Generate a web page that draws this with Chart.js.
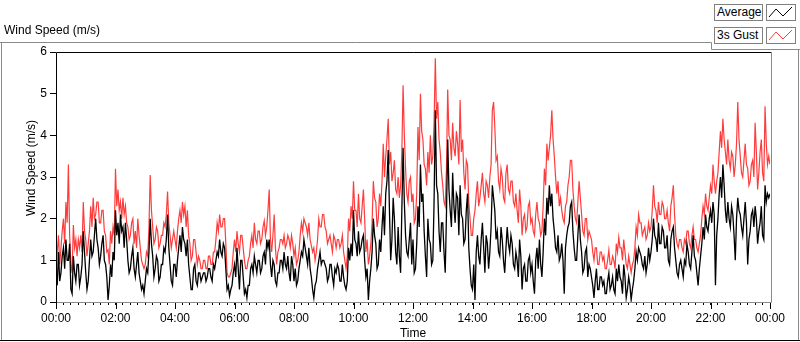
<!DOCTYPE html>
<html>
<head>
<meta charset="utf-8">
<script src="https://cdn.jsdelivr.net/npm/chart.js@4.4.0/dist/chart.umd.min.js"></script>
<style>
  body { margin: 0; background: #fff; font-family: "Liberation Sans", Arial, sans-serif; }
  #wrap { position: relative; width: 800px; height: 342px; }
  #c { position: absolute; left: 0; top: 0; }
  .lbl { position: absolute; font-size: 12px; line-height: 14px; color: #000; white-space: nowrap; }
  .box { position: absolute; height: 17px; border: 1px solid #808080; background: #fff;
         box-sizing: border-box; font-size: 12px; line-height: 15px; padding-left: 2px; color: #000; }
  .icon { position: absolute; width: 30px; height: 17px; border: 1px solid #808080; background: #fff; box-sizing: border-box; }
</style>
</head>
<body>
<div id="wrap">
  <canvas id="c" width="800" height="342"></canvas>
  <div class="lbl" style="left:4px;top:23px;">Wind Speed (m/s)</div>
  <div class="box" style="left:714px;top:4px;width:49px;">Average</div>
  <div class="icon" style="left:766px;top:4px;">
    <svg width="28" height="15"><polyline points="2,12 9,4 16,11 25,2" fill="none" stroke="#000" stroke-width="1"/></svg>
  </div>
  <div class="box" style="left:714px;top:27px;width:49px;">3s Gust</div>
  <div class="icon" style="left:766px;top:27px;">
    <svg width="28" height="15"><polyline points="2,12 9,4 16,11 25,2" fill="none" stroke="#ff4040" stroke-width="1"/></svg>
  </div>
</div>
<script>
// one reading every 2.5 min from 00:00 to 24:00 (24 per hour row)
const STEP_MIN = 2.5;

const HOUR_TICKS = ['00:00', '02:00', '04:00', '06:00', '08:00', '10:00', '12:00',
                    '14:00', '16:00', '18:00', '20:00', '22:00', '00:00'];

const gust = [
  0.85, 1.2, 1.6, 0.9, 1.3, 1.7, 2.0, 1.4, 2.4, 1.9, 3.3, 1.6, 0.9, 0.7, 1.85, 1.3, 1.5, 1.1, 1.5, 1.3, 1.6, 1.2, 2.4, 1.7,
  1.5, 1.1, 1.4, 1.7, 2.3, 1.8, 2.5, 2.0, 2.1, 2.4, 2.4, 1.9, 1.9, 2.2, 2.2, 1.7, 1.6, 1.2, 1.25, 0.9, 1.7, 1.4, 1.8, 1.6,
  3.2, 2.3, 2.7, 2.2, 2.4, 2.0, 2.5, 2.1, 2.3, 1.9, 1.8, 1.5, 1.6, 1.9, 2.0, 1.4, 1.7, 1.3, 2.0, 1.6, 1.3, 1.0, 0.9, 0.8,
  0.9, 1.2, 1.1, 1.8, 3.05, 2.2, 1.8, 1.4, 1.5, 1.8, 1.7, 1.3, 1.4, 1.6, 1.6, 1.9, 1.8, 2.1, 2.65, 1.9, 1.6, 1.3, 1.5, 1.7,
  1.5, 1.3, 1.7, 2.0, 2.2, 1.9, 2.4, 2.1, 2.3, 1.8, 2.2, 1.6, 1.4, 1.0, 1.1, 1.5, 1.5, 1.2, 0.9, 1.1, 1.0, 0.8, 0.8, 1.0,
  1.0, 0.8, 0.8, 1.1, 1.1, 0.9, 0.9, 1.2, 1.2, 1.5, 1.9, 1.7, 2.1, 1.8, 1.8, 2.0, 2.0, 1.4, 0.7, 0.6, 0.6, 0.7, 0.8, 1.2,
  1.5, 1.2, 1.7, 1.4, 1.2, 1.6, 1.6, 1.3, 1.0, 0.8, 0.8, 1.0, 1.1, 1.4, 1.6, 1.3, 1.9, 1.5, 1.4, 1.7, 1.7, 1.4, 1.5, 1.8,
  1.95, 1.6, 1.8, 2.2, 2.7, 1.5, 1.2, 1.6, 2.1, 1.3, 0.9, 1.2, 1.3, 1.5, 1.5, 1.4, 1.6, 1.3, 1.4, 1.6, 1.5, 1.3, 1.6, 1.4,
  1.1, 1.3, 0.9, 1.0, 1.2, 1.6, 1.9, 1.7, 2.0, 1.9, 1.8, 1.6, 1.9, 1.5, 1.35, 1.2, 1.3, 1.0, 1.2, 1.5, 2.0, 1.8, 1.8, 2.1,
  2.1, 1.8, 1.7, 1.4, 1.5, 1.6, 1.4, 1.2, 1.6, 1.5, 1.3, 1.5, 1.5, 1.3, 1.4, 1.6, 1.2, 1.0, 0.8, 1.1, 2.0, 1.7, 2.3, 2.0,
  2.9, 2.2, 2.2, 1.8, 2.6, 2.0, 1.9, 2.3, 2.7, 2.0, 1.2, 1.5, 0.9, 1.1, 1.4, 1.9, 2.9, 2.5, 2.4, 1.8, 2.0, 2.6, 2.3, 2.9,
  3.8, 3.0, 3.5, 3.9, 4.4, 3.3, 3.6, 2.9, 3.1, 3.4, 2.7, 2.6, 3.0, 2.5, 2.8, 3.6, 5.2, 4.0, 3.2, 2.6, 2.4, 2.9, 3.0, 2.4,
  2.6, 1.9, 2.0, 2.6, 4.2, 3.4, 5.0, 4.1, 3.9, 3.3, 3.2, 2.8, 3.6, 3.1, 4.0, 3.3, 3.5, 4.3, 5.85, 4.4, 4.8, 3.9, 3.6, 3.1,
  2.8, 2.4, 2.3, 3.2, 5.1, 4.0, 3.9, 3.4, 4.3, 3.7, 3.5, 4.1, 3.8, 3.3, 4.85, 3.6, 3.9, 3.1, 2.7, 3.4, 3.3, 2.4, 2.0, 1.6,
  1.6, 2.0, 2.2, 2.6, 2.9, 2.3, 2.5, 2.8, 3.1, 2.6, 2.4, 2.9, 2.8, 2.5, 3.0, 3.3, 4.6, 4.8, 4.2, 3.4, 3.5, 2.9, 2.7, 3.2,
  3.0, 2.5, 2.4, 3.1, 3.3, 2.7, 2.6, 2.9, 2.9, 2.4, 2.3, 2.6, 2.2, 1.9, 2.7, 2.3, 1.6, 2.0, 2.1, 1.7, 1.8, 2.3, 2.4, 1.9,
  2.0, 1.7, 1.6, 2.1, 2.4, 2.0, 1.9, 1.6, 1.7, 2.3, 3.2, 2.8, 3.8, 3.4, 3.7, 4.0, 4.6, 3.9, 3.5, 3.0, 2.6, 2.9, 2.3, 2.5,
  2.2, 2.0, 1.9, 2.3, 2.4, 2.8, 3.0, 3.4, 3.4, 2.7, 2.3, 2.0, 1.9, 2.4, 2.9, 2.5, 2.1, 1.7, 1.6, 2.0, 2.0, 1.5, 1.7, 1.6,
  1.5, 1.2, 1.0, 1.3, 1.3, 0.9, 0.9, 1.2, 1.2, 1.0, 1.1, 0.8, 0.8, 1.0, 1.25, 0.9, 0.9, 1.1, 1.0, 0.8, 1.4, 1.2, 1.55, 1.3,
  1.3, 1.0, 1.5, 1.2, 0.9, 0.8, 1.1, 0.9, 0.7, 0.9, 1.0, 1.3, 1.8, 1.6, 2.1, 1.9, 1.9, 1.6, 1.7, 1.8, 1.5, 1.6, 1.9, 1.7,
  1.8, 2.2, 2.8, 2.3, 2.2, 1.9, 2.4, 2.1, 2.1, 2.4, 2.3, 2.0, 2.0, 2.2, 1.9, 1.7, 2.3, 2.5, 2.8, 2.1, 1.6, 1.4, 1.3, 1.5,
  1.5, 1.3, 1.2, 1.5, 1.4, 1.7, 1.7, 1.4, 1.3, 1.6, 1.8, 1.5, 1.5, 1.3, 1.2, 1.4, 1.6, 2.0, 2.3, 2.1, 2.6, 2.3, 2.2, 2.5,
  2.8, 2.6, 3.3, 2.9, 2.6, 2.9, 3.1, 3.6, 4.1, 3.7, 4.4, 3.9, 3.6, 3.3, 3.9, 3.4, 3.2, 3.6, 3.5, 3.0, 3.3, 3.8, 4.8, 3.9,
  3.5, 3.1, 3.0, 3.4, 3.8, 3.3, 3.2, 2.8, 2.9, 3.3, 3.4, 3.0, 4.3, 3.6, 2.7, 3.1, 3.6, 3.9, 3.1, 2.9, 4.7, 3.8, 3.3, 3.5,
  3.3
];

const average = [
  0.6, 0.4, 1.2, 0.5, 0.7, 1.1, 1.3, 0.8, 1.5, 1.0, 1.0, 1.4, 0.3, 0.2, 1.1, 0.7, 0.5, 0.9, 0.9, 0.4, 0.6, 0.9, 1.7, 1.2,
  0.7, 0.3, 0.5, 1.0, 1.5, 1.1, 1.2, 1.6, 2.0, 1.5, 1.3, 0.9, 1.1, 1.4, 1.6, 1.0, 0.9, 0.6, 0.05, 0.4, 0.9, 0.6, 1.2, 1.0,
  2.2, 1.6, 1.9, 1.4, 2.1, 1.7, 1.8, 1.3, 1.9, 1.5, 1.0, 0.7, 0.8, 1.1, 1.3, 0.8, 0.6, 0.9, 1.2, 0.7, 0.5, 0.3, 0.4, 0.2,
  0.5, 0.8, 0.7, 1.2, 2.0, 1.4, 1.1, 0.6, 0.8, 1.1, 1.0, 0.5, 0.6, 0.9, 0.9, 1.3, 1.2, 1.5, 2.1, 1.3, 0.9, 0.5, 0.4, 0.9,
  0.9, 0.6, 1.0, 1.3, 1.6, 1.2, 1.8, 1.5, 1.4, 1.1, 1.5, 0.9, 0.6, 0.3, 0.3, 0.8, 0.9, 0.5, 0.4, 0.7, 0.7, 0.5, 0.6, 0.7,
  0.7, 0.5, 0.6, 0.8, 0.8, 0.6, 0.5, 0.9, 0.8, 1.0, 1.2, 1.1, 1.5, 1.2, 1.1, 1.4, 1.3, 0.8, 0.3, 0.4, 0.15, 0.3, 0.4, 0.7,
  0.9, 0.6, 1.3, 0.8, 0.3, 1.0, 1.0, 0.6, 0.2, 0.3, 0.1, 0.4, 0.4, 0.8, 0.9, 0.7, 1.1, 0.9, 0.7, 1.0, 1.0, 0.7, 0.8, 1.1,
  1.2, 0.9, 1.5, 1.3, 1.5, 0.9, 0.6, 1.0, 0.9, 0.5, 0.4, 0.7, 0.7, 1.0, 1.0, 0.8, 1.2, 0.9, 0.8, 1.1, 0.7, 0.5, 1.1, 0.9,
  0.5, 0.8, 0.4, 0.5, 0.8, 1.0, 1.2, 1.1, 1.5, 1.3, 1.1, 0.9, 1.3, 0.8, 0.6, 0.3, 0.1, 0.4, 0.5, 0.8, 1.0, 1.2, 0.9, 1.0,
  1.0, 0.9, 0.8, 0.5, 0.6, 0.9, 0.9, 0.6, 0.4, 0.8, 0.7, 0.9, 0.8, 0.5, 0.5, 0.9, 0.6, 0.4, 0.3, 0.5, 1.3, 1.0, 1.4, 1.1,
  2.2, 1.5, 1.4, 1.1, 1.7, 1.2, 1.3, 1.5, 1.6, 1.0, 0.6, 0.8, 0.05, 0.5, 0.8, 1.2, 2.0, 1.6, 1.4, 0.8, 0.9, 1.5, 1.2, 1.8,
  2.3, 1.6, 2.6, 2.9, 3.65, 2.2, 1.0, 1.5, 2.5, 2.0, 1.2, 0.9, 1.8, 1.1, 0.7, 2.2, 3.7, 2.4, 1.6, 1.2, 1.1, 1.5, 1.9, 0.9,
  1.5, 0.7, 0.8, 1.4, 2.3, 1.8, 3.3, 2.4, 2.6, 1.7, 1.1, 0.6, 2.0, 1.5, 1.4, 0.9, 1.0, 2.4, 4.6, 2.8, 2.6, 1.7, 1.2, 1.9,
  1.9, 1.2, 0.7, 2.1, 3.9, 2.7, 2.2, 1.8, 3.1, 2.3, 1.9, 2.6, 2.5, 1.6, 2.8, 2.1, 2.0, 1.4, 1.5, 2.2, 2.6, 1.3, 0.8, 0.4,
  0.3, 0.9, 0.05, 1.2, 1.6, 1.1, 0.9, 1.5, 1.9, 1.3, 0.7, 1.6, 1.4, 0.8, 1.2, 1.8, 2.8, 2.5, 2.2, 1.5, 1.7, 1.2, 1.1, 1.8,
  1.5, 1.0, 0.7, 1.3, 1.8, 1.4, 1.2, 1.6, 1.4, 0.9, 0.8, 1.2, 1.0, 0.6, 1.5, 1.1, 0.3, 0.8, 0.9, 0.5, 0.5, 1.0, 1.1, 0.7,
  0.9, 0.5, 0.2, 1.0, 1.3, 0.8, 1.5, 0.9, 0.6, 1.2, 2.0, 1.6, 2.5, 2.1, 2.8, 2.3, 2.6, 2.0, 1.7, 1.3, 1.2, 1.6, 1.0, 1.1,
  1.4, 1.0, 0.2, 1.3, 1.6, 1.8, 1.9, 2.3, 2.4, 1.7, 1.3, 1.0, 1.0, 1.6, 2.1, 1.5, 1.2, 0.7, 0.8, 1.2, 1.3, 0.6, 0.9, 0.8,
  0.6, 0.4, 0.1, 0.5, 0.8, 0.3, 0.3, 0.6, 0.6, 0.4, 0.5, 0.2, 0.2, 0.5, 0.7, 0.3, 0.4, 0.6, 0.3, 0.2, 0.8, 0.5, 0.9, 0.6,
  0.5, 0.2, 0.9, 0.6, 0.1, 0.3, 0.6, 0.4, 0.05, 0.3, 0.5, 0.8, 1.2, 1.0, 1.3, 1.2, 1.1, 0.9, 0.8, 1.1, 0.7, 0.9, 1.3, 1.0,
  1.2, 1.5, 2.0, 1.6, 1.5, 1.2, 1.9, 1.4, 1.4, 1.8, 1.7, 1.3, 1.3, 1.6, 1.0, 0.9, 1.5, 1.7, 1.8, 1.3, 1.0, 0.7, 0.6, 0.9,
  1.0, 0.8, 0.6, 1.0, 0.9, 1.4, 1.2, 0.9, 0.8, 1.2, 1.6, 1.1, 1.0, 0.7, 0.4, 0.8, 1.1, 1.4, 1.8, 1.5, 2.1, 1.8, 1.7, 2.0,
  2.2, 1.9, 2.4, 2.1, 0.4, 1.6, 2.0, 2.6, 3.0, 2.5, 3.3, 2.8, 2.2, 1.9, 2.4, 2.0, 1.8, 2.3, 2.1, 1.6, 1.0, 2.0, 2.5, 2.2,
  2.1, 1.8, 1.6, 2.0, 2.4, 1.9, 0.9, 1.5, 1.7, 2.1, 2.2, 1.8, 2.3, 2.0, 1.4, 1.7, 1.9, 2.3, 1.6, 1.5, 2.8, 2.4, 2.6, 2.5,
  2.6
];

const toPoints = vals => vals.map((v, i) => ({ x: i * STEP_MIN, y: v }));

// frame lines, longer hour ticks and the y title (LabVIEW look)
const frame = {
  id: 'frame',
  beforeDraw(chart) {
    const c = chart.ctx;
    c.save();
    c.lineWidth = 1;
    c.strokeStyle = '#8a8a8a';
    c.beginPath();
    c.moveTo(0, 42.5); c.lineTo(711.5, 42.5); c.lineTo(711.5, 49.5); c.lineTo(800, 49.5);
    c.moveTo(1.5, 42); c.lineTo(1.5, 340);
    c.moveTo(798.5, 49); c.lineTo(798.5, 340);
    c.stroke();
    c.strokeStyle = '#000';
    c.beginPath();
    c.moveTo(0, 340.5); c.lineTo(800, 340.5);
    c.stroke();
    c.restore();
  },
  afterDraw(chart) {
    const c = chart.ctx, a = chart.chartArea, x = chart.scales.x;
    c.save();
    c.lineWidth = 1;
    c.strokeStyle = '#000';
    c.beginPath();
    c.moveTo(a.left + 0.5, a.bottom); c.lineTo(a.left + 0.5, a.top + 0.5); c.lineTo(a.right + 1, a.top + 0.5);
    HOUR_TICKS.forEach((t, i) => {
      const px = Math.round(x.getPixelForValue(i * 120)) + 0.5;
      c.moveTo(px, a.bottom); c.lineTo(px, a.bottom + 7);
    });
    c.stroke();
    c.strokeStyle = '#8a8a8a';
    c.beginPath();
    c.moveTo(a.left + 1, a.bottom + 0.5); c.lineTo(a.right + 1.5, a.bottom + 0.5); c.lineTo(a.right + 1.5, a.top);
    c.stroke();
    c.translate(32, 168);
    c.rotate(-Math.PI / 2);
    c.fillStyle = '#000';
    c.font = '12px "Liberation Sans", Arial, sans-serif';
    c.textAlign = 'center';
    c.textBaseline = 'middle';
    c.fillText('Wind Speed (m/s)', 0, 0);
    c.restore();
  }
};

Chart.defaults.font.family = '"Liberation Sans", Arial, sans-serif';
Chart.defaults.font.size = 12;
Chart.defaults.color = '#000';

new Chart(document.getElementById('c').getContext('2d'), {
  type: 'line',
  data: {
    datasets: [
      { label: 'Average', data: toPoints(average), borderColor: '#000', borderWidth: 1.3, pointRadius: 0 },
      { label: '3s Gust', data: toPoints(gust), borderColor: '#ff3c3c', borderWidth: 1.2, pointRadius: 0 }
    ]
  },
  options: {
    responsive: false,
    animation: false,
    layout: { padding: { left: 0, right: 30, top: 52, bottom: 0 } },
    plugins: { legend: { display: false }, tooltip: { enabled: false } },
    scales: {
      x: {
        type: 'linear', min: 0, max: 1440,
        border: { display: false },
        grid: { drawOnChartArea: false, tickLength: 3, color: '#000' },
        ticks: {
          stepSize: 15, autoSkip: false, maxRotation: 0, padding: 6,
          callback: v => (v % 120 === 0 ? HOUR_TICKS[v / 120] : '')
        },
        title: { display: true, text: 'Time', padding: { top: 0, bottom: 1 } },
        afterFit(s) { s.height = 40; }
      },
      y: {
        min: 0, max: 6,
        border: { display: false },
        grid: { drawOnChartArea: false, tickLength: 6, color: '#000' },
        ticks: { stepSize: 1, padding: 3 },
        afterFit(s) { s.width = 56; }
      }
    }
  },
  plugins: [frame]
});
</script>
</body>
</html>
